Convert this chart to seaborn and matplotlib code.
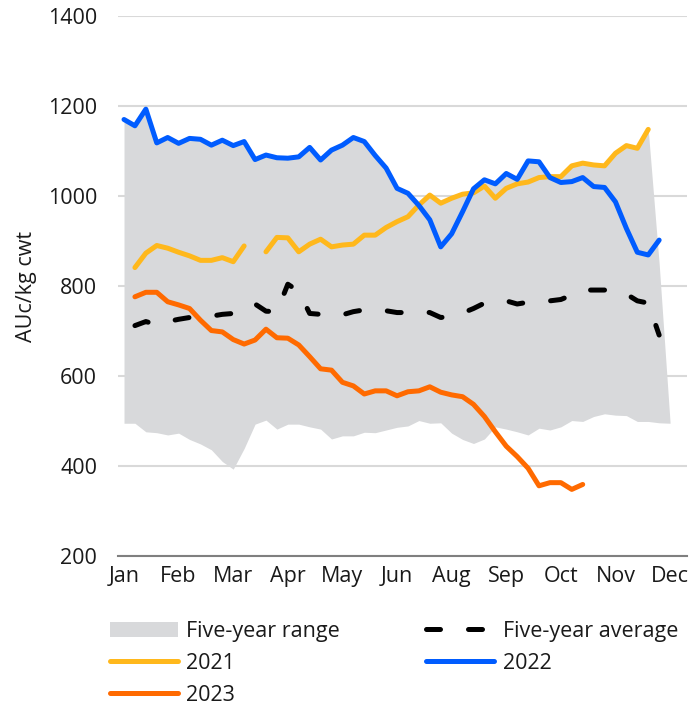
import numpy as np
import pandas as pd
import seaborn as sns
import matplotlib.pyplot as plt
from matplotlib.lines import Line2D
from matplotlib.patches import Patch

nan = np.nan

# weekly index, tick every 5 weeks
weeks = list(range(51))
tick_weeks = [0, 5, 10, 15, 20, 25, 30, 35, 40, 45, 50]
tick_labels = ["Jan", "Feb", "Mar", "Apr", "May", "Jun", "Aug", "Sep", "Oct", "Nov", "Dec"]

range_low = [495, 495, 476, 474, 469, 473, 459, 449, 436, 410,
             393, 439, 493, 502, 482, 493, 493, 487, 482, 460,
             467, 467, 475, 474, 480, 486, 489, 501, 495, 496,
             473, 459, 450, 460, 487, 482, 476, 469, 484, 480,
             487, 501, 499, 510, 516, 513, 512, 499, 499, 496,
             495]
range_high = [1165, 1156, 1193, 1118, 1130, 1117, 1128, 1126, 1113, 1124,
              1112, 1121, 1081, 1091, 1085, 1084, 1087, 1108, 1080, 1102,
              1113, 1130, 1121, 1090, 1062, 1017, 1006, 980, 1002, 984,
              995, 1004, 1016, 1036, 1027, 1050, 1037, 1078, 1076, 1043,
              1043, 1067, 1073, 1069, 1067, 1095, 1112, 1106, 1148, 850,
              497]
avg5 = [nan, 712, 721, 714, 721, 726, 730, 731, 733, 737,
        739, 750, 760, 744, 743, 804, 788, 739, 737, 734,
        736, 743, 747, 747, 745, 741, 741, 743, 741, 730,
        733, 740, 750, 762, 764, 767, 760, 764, 766, 767,
        770, 780, 791, 791, 791, 790, 782, 767, 762, 691,
        nan]
y2021 = [nan, 841, 873, 890, 884, 875, 867, 857, 857, 863,
         854, 889, nan, 876, 908, 907, 876, 893, 904, 887,
         891, 893, 913, 913, 930, 943, 954, 980, 1002, 984,
         995, 1004, 1007, 1022, 995, 1017, 1027, 1031, 1041, 1043,
         1043, 1067, 1073, 1069, 1067, 1095, 1112, 1106, 1148, nan,
         nan]
y2022 = [1170, 1156, 1193, 1118, 1130, 1117, 1128, 1126, 1113, 1124,
         1112, 1121, 1081, 1091, 1085, 1084, 1087, 1108, 1080, 1102,
         1113, 1130, 1121, 1090, 1062, 1017, 1006, 979, 947, 887,
         916, 965, 1016, 1036, 1027, 1050, 1037, 1078, 1076, 1041,
         1030, 1032, 1041, 1021, 1019, 987, 928, 875, 869, 902,
         nan]
y2023 = [nan, 776, 786, 786, 765, 758, 750, 724, 701, 698,
         681, 671, 680, 704, 685, 684, 669, 643, 616, 613,
         586, 578, 560, 567, 567, 556, 565, 567, 576, 564,
         558, 554, 537, 510, 476, 444, 421, 395, 356, 363,
         363, 348, 359, nan, nan, nan, nan, nan, nan, nan,
         nan]

C_RANGE = "#d8d9db"
C_2021 = "#ffb81c"
C_2022 = "#005cff"
C_2023 = "#ff6a00"

sns.set_style("white")
plt.rcParams["font.family"] = ["Open Sans", "DejaVu Sans"]
FS = 15.5

df = pd.DataFrame({"week": weeks, "low": range_low, "high": range_high,
                   "avg": avg5, "y2021": y2021, "y2022": y2022, "y2023": y2023})
# segment id so that gaps in the data stay as gaps
df["seg2021"] = df["y2021"].isna().cumsum()

fig = plt.figure(figsize=(6.92, 7.08), dpi=100)
ax = fig.add_axes([118 / 692, 1 - 556 / 708, 569 / 692, 540 / 708])

ax.fill_between(df["week"], df["low"], df["high"], color=C_RANGE, lw=0, zorder=1)

line_kw = dict(lw=3.6, solid_capstyle="round", solid_joinstyle="round", zorder=3)
sns.lineplot(data=df.dropna(subset=["avg"]), x="week", y="avg", ax=ax, color="black",
             lw=3.6, linestyle=(0, (2.8, 5.6)), dash_capstyle="round", zorder=3)
sns.lineplot(data=df.dropna(subset=["y2021"]), x="week", y="y2021", units="seg2021",
             estimator=None, ax=ax, color=C_2021, **line_kw)
sns.lineplot(data=df.dropna(subset=["y2022"]), x="week", y="y2022", ax=ax, color=C_2022, **line_kw)
sns.lineplot(data=df.dropna(subset=["y2023"]), x="week", y="y2023", ax=ax, color=C_2023, **line_kw)

ax.set_xlim(-0.55, 51.55)
ax.set_ylim(200, 1400)
ax.set_yticks(range(200, 1401, 200))
ax.set_xticks(tick_weeks)
ax.set_xticklabels(tick_labels)
ax.yaxis.grid(True, color="#d9d9d9", lw=1.5, zorder=0)
ax.set_axisbelow(True)
for s in ["left", "right", "top"]:
    ax.spines[s].set_visible(False)
ax.spines["bottom"].set_color("#7f7f7f")
ax.spines["bottom"].set_linewidth(1.5)
ax.tick_params(axis="y", length=0, pad=15, labelsize=FS, labelcolor="#1a1a1a")
ax.tick_params(axis="x", length=0, pad=7, labelsize=FS, labelcolor="#1a1a1a")
ax.set_xlabel("")
ax.set_ylabel("AUc/kg cwt", fontsize=FS, color="#1a1a1a", labelpad=8)

handles = [
    Patch(facecolor=C_RANGE, edgecolor="none"),
    Line2D([], [], color=C_2021, lw=3.6, solid_capstyle="round"),
    Line2D([], [], color=C_2023, lw=3.6, solid_capstyle="round"),
    Line2D([], [], color="black", lw=3.6, linestyle=(0, (2.8, 5.6)), dash_capstyle="round"),
    Line2D([], [], color=C_2022, lw=3.6, solid_capstyle="round"),
]
labels = ["Five-year range", "2021", "2023", "Five-year average", "2022"]
fig.legend(handles, labels, loc="upper left", bbox_to_anchor=(110 / 692, 1 - 621 / 708),
           ncol=2, frameon=False, fontsize=FS, handlelength=3.15, handletextpad=0.4,
           columnspacing=4.0, labelspacing=0.5, borderpad=0, borderaxespad=0,
           labelcolor="#1a1a1a")

fig.savefig("out.png", dpi=100)
